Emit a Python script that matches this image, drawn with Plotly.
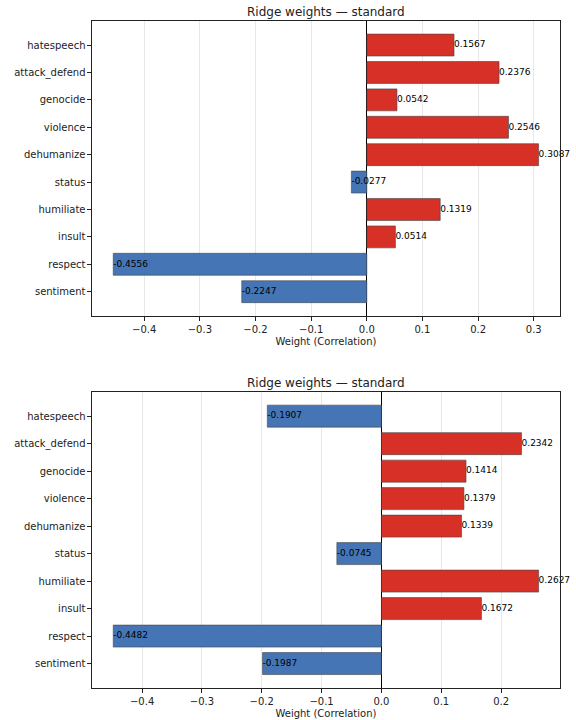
import plotly.graph_objects as go
from plotly.subplots import make_subplots

categories = ["hatespeech", "attack_defend", "genocide", "violence", "dehumanize",
              "status", "humiliate", "insult", "respect", "sentiment"]
weights_top = [0.1567, 0.2376, 0.0542, 0.2546, 0.3087, -0.0277, 0.1319, 0.0514, -0.4556, -0.2247]
weights_bottom = [-0.1907, 0.2342, 0.1414, 0.1379, 0.1339, -0.0745, 0.2627, 0.1672, -0.4482, -0.1987]
titles = ["Ridge weights — standard", "Ridge weights — standard"]
xlabel = "Weight (Correlation)"

RED = "#d73027"
BLUE = "#4575b4"
FONT = "DejaVu Sans"

fig = make_subplots(rows=2, cols=1)

panels = [weights_top, weights_bottom]
for i, vals in enumerate(panels, start=1):
    colors = [RED if v >= 0 else BLUE for v in vals]
    fig.add_trace(go.Bar(
        x=vals, y=categories, orientation="h",
        marker=dict(color=colors, line=dict(color="#444444", width=0.6)),
        width=0.8, showlegend=False, hoverinfo="skip"), row=i, col=1)
    fig.add_trace(go.Scatter(
        x=vals, y=categories, mode="text",
        text=[f"{v:.4f}" for v in vals], textposition="middle right",
        textfont=dict(family=FONT, size=9, color="black"),
        showlegend=False, hoverinfo="skip", cliponaxis=False), row=i, col=1)

# data-driven ranges with 5% margin like matplotlib
def xr(vals):
    lo, hi = min(vals + [0]), max(vals + [0])
    m = (hi - lo) * 0.05
    return [lo - m, hi + m]

axis_common = dict(showline=True, mirror=True, linecolor="#222222", linewidth=1,
                   ticks="outside", ticklen=3.5, tickcolor="#222222", tickwidth=1,
                   tickfont=dict(family=FONT, size=10, color="#222222"))
xaxis_common = dict(dtick=0.1, tickformat=".1f", layer="above traces",
                    showgrid=True, gridcolor="rgba(176,176,176,0.3)", gridwidth=1,
                    zeroline=True, zerolinecolor="black", zerolinewidth=1,
                    title=dict(text=xlabel, font=dict(size=10, family=FONT), standoff=4))

TOP_DOM = [0.561, 0.9713]
BOT_DOM = [0.0444, 0.456]

fig.update_layout(
    width=576, height=720, margin=dict(l=0, r=0, t=0, b=0),
    plot_bgcolor="white", paper_bgcolor="white",
    font=dict(family=FONT, color="#222222"),
    bargap=0.2,
    xaxis=dict(domain=[0.1597, 0.972], range=xr(weights_top), **xaxis_common, **axis_common),
    yaxis=dict(domain=TOP_DOM, showgrid=False, **axis_common),
    xaxis2=dict(domain=[0.1597, 0.972], range=xr(weights_bottom), **xaxis_common, **axis_common),
    yaxis2=dict(domain=BOT_DOM, showgrid=False, **axis_common),
)
fig.update_yaxes(range=[9.89, -0.89], autorange=False)

for yaxis_top, t in zip([TOP_DOM[1], BOT_DOM[1]], titles):
    fig.add_annotation(text=t, xref="paper", yref="paper",
                       x=(0.1597 + 0.972) / 2, y=yaxis_top, yanchor="bottom", yshift=0,
                       showarrow=False, font=dict(family=FONT, size=12, color="#222222"))

fig.write_html("out.html", config={"displayModeBar": False},
               post_script="document.body.style.margin='0px';document.body.style.padding='0px';")
